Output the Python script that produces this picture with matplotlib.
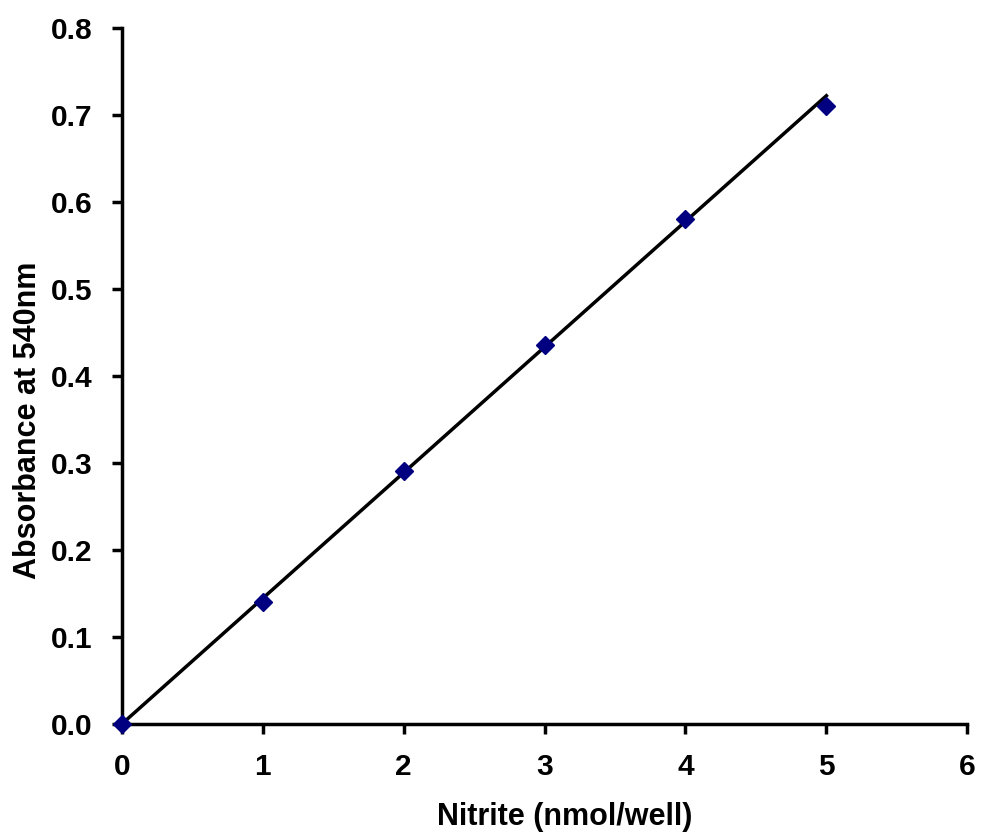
import numpy as np
import matplotlib.pyplot as plt

plt.rcParams['font.family'] = ['Liberation Sans', 'DejaVu Sans']
plt.rcParams['font.weight'] = 'bold'

nitrite = [0, 1, 2, 3, 4, 5]
absorbance = [0.0, 0.14, 0.291, 0.436, 0.581, 0.711]

# trendline
fit_slope = 0.1445
fit_intercept = 0.0

fig = plt.figure(figsize=(9.83, 8.34), dpi=100)
ax = fig.add_axes([0.124, 0.132, 0.86, 0.834])

xf = np.array([nitrite[0], nitrite[-1]])
ax.plot(xf, fit_slope * xf + fit_intercept, color='black', lw=2.5, zorder=2)
ax.plot(nitrite, absorbance, 'D', color='#000080', ms=9.5, zorder=3, clip_on=False)

ax.set_xlim(0, 6)
ax.set_ylim(0, 0.8)
ax.set_xticks(range(7))
ax.set_yticks(np.arange(0, 0.81, 0.1))
ax.set_yticklabels([f'{v:.1f}' for v in np.arange(0, 0.81, 0.1)])

for s in ['top', 'right']:
    ax.spines[s].set_visible(False)
for s in ['left', 'bottom']:
    ax.spines[s].set_linewidth(2.5)
ax.tick_params(direction='out', length=7, width=2.5, labelsize=21.5)
ax.tick_params(axis='x', pad=14)
ax.tick_params(axis='y', pad=14)

ax.set_xlabel('Nitrite (nmol/well)', fontsize=22, fontweight='bold', labelpad=15, x=0.524)
ax.set_ylabel('Absorbance at 540nm', fontsize=22, fontweight='bold', labelpad=5.5, y=0.437)

fig.savefig('out.png')
